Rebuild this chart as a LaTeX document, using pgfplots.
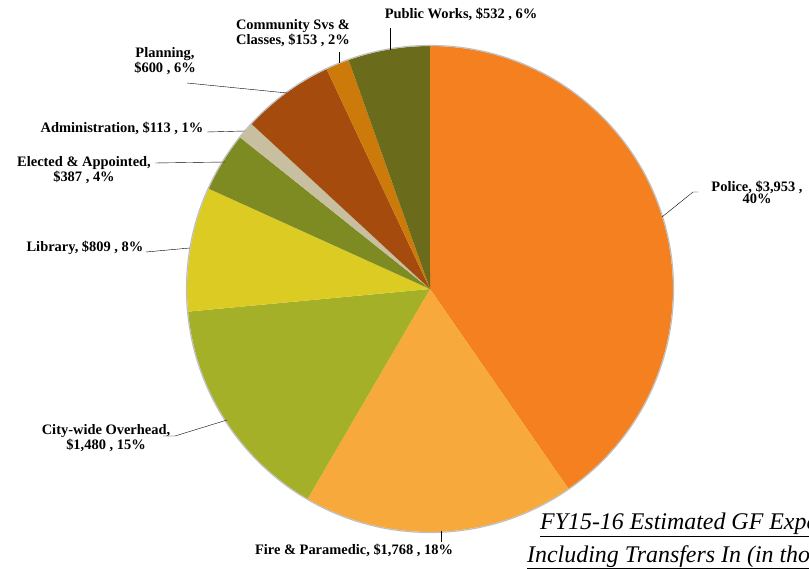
\documentclass[border=0pt]{standalone}
\usepackage{pgfplots}
\usepackage{pgfplotstable}
\pgfplotsset{compat=1.18}
\usepackage{fontspec}
\setmainfont{Liberation Serif}

\definecolor{cPolice}{RGB}{244,128,32}
\definecolor{cFire}{RGB}{248,169,60}
\definecolor{cCity}{RGB}{163,176,40}
\definecolor{cLibrary}{RGB}{220,203,34}
\definecolor{cElected}{RGB}{126,139,34}
\definecolor{cAdmin}{RGB}{200,191,160}
\definecolor{cPlanning}{RGB}{166,75,14}
\definecolor{cCommunity}{RGB}{204,122,10}
\definecolor{cPublic}{RGB}{107,107,28}

% expenditure by department, in thousands, clockwise from 12 o'clock
\pgfplotstableread{
value col
3953 cPolice
1768 cFire
1480 cCity
809  cLibrary
387  cElected
113  cAdmin
600  cPlanning
153  cCommunity
532  cPublic
}\slices

\newcommand{\lab}{\bfseries\fontsize{14.5}{17}\selectfont}

\begin{document}
\begin{tikzpicture}
\begin{axis}[
    name=ax, at={(0,0)}, anchor=south west,
    scale only axis, width=809bp, height=569bp,
    xmin=0, xmax=809, ymin=0, ymax=569,
    hide axis, clip=false]
\pgfplotstablegetrowsof{\slices}
\pgfmathtruncatemacro\nrows{\pgfplotsretval-1}
\def\total{0}
\pgfplotsforeachungrouped \i in {0,...,\nrows}{%
  \pgfplotstablegetelem{\i}{value}\of\slices
  \pgfmathsetmacro\total{\total+\pgfplotsretval}}
\def\start{90}
\pgfplotsforeachungrouped \i in {0,...,\nrows}{%
  \pgfplotstablegetelem{\i}{value}\of\slices
  \pgfmathsetmacro\stop{\start-\pgfplotsretval/\total*360}
  \pgfplotstablegetelem{\i}{col}\of\slices
  \edef\cmd{\noexpand\fill[\pgfplotsretval] (axis cs:430,280) -- ++(\start:243bp)
    arc[start angle=\start, end angle=\stop, radius=243bp] -- cycle;}
  \cmd
  \global\let\start\stop}
\draw[black!25, line width=1.2bp] (axis cs:430,280) circle[radius=243.5bp];

% labels and leader lines
\node[align=center] at (axis cs:461,555) {\lab Public Works, \$532 , 6\%};
\draw (axis cs:390,541) -- (axis cs:390,519);
\node[align=center] at (axis cs:293,536) {\lab Community Svs \&\\\lab Classes, \$153 , 2\%};
\draw (axis cs:339,517) -- (axis cs:339,506);
\node[align=center] at (axis cs:165,508) {\lab Planning,\\\lab \$600 , 6\%};
\draw (axis cs:187,486) -- (axis cs:287,476);
\node[align=center] at (axis cs:122,441) {\lab Administration, \$113 , 1\%};
\draw (axis cs:207,437) -- (axis cs:245,438);
\node[align=center] at (axis cs:84,399) {\lab Elected \& Appointed,\\\lab \$387 , 4\%};
\draw (axis cs:155,406) -- (axis cs:225,407);
\node[align=center] at (axis cs:85,321) {\lab Library, \$809 , 8\%};
\draw (axis cs:146,317) -- (axis cs:190,321);
\node[align=center] at (axis cs:106,131) {\lab City-wide Overhead,\\\lab \$1,480 , 15\%};
\draw (axis cs:163,133) -- (axis cs:175,133) -- (axis cs:227,149);
\node[align=center] at (axis cs:354,19) {\lab Fire \& Paramedic, \$1,768 , 18\%};
\draw (axis cs:441,38) -- (axis cs:441,27);
\node[align=center] at (axis cs:757,377) {\lab Police, \$3,953 ,\\\lab 40\%};
\draw (axis cs:662,352) -- (axis cs:693,377) -- (axis cs:698,377);

% title, cut by the right edge as in the original
\node[anchor=base west, inner sep=0pt] at (axis cs:540,39)
  {\fontsize{24}{28}\selectfont\itshape\underline{FY15-16 Estimated GF Expenditures}};
\node[anchor=base west, inner sep=0pt] at (axis cs:527,7)
  {\fontsize{24}{28}\selectfont\itshape\underline{Including Transfers In (in thousands)}};
\end{axis}
\pgfresetboundingbox
\useasboundingbox (ax.south west) rectangle (ax.north east);
\end{tikzpicture}
\end{document}
